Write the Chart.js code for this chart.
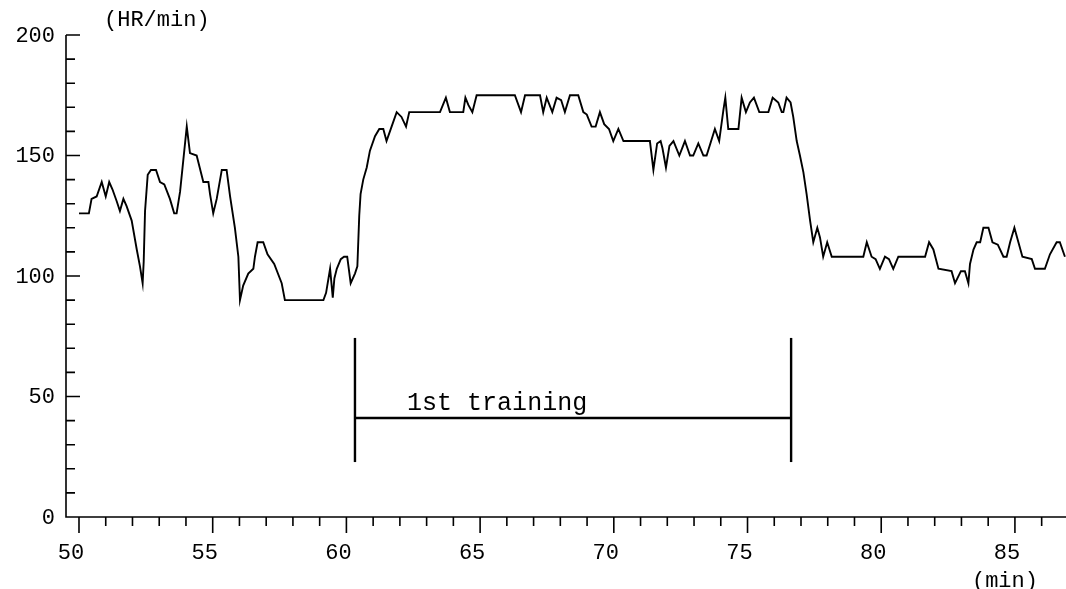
<!DOCTYPE html>
<html>
<head>
<meta charset="utf-8">
<script src="https://cdn.jsdelivr.net/npm/chart.js@4/dist/chart.umd.min.js"></script>
<style>
  html, body { margin: 0; padding: 0; background: #fff; }
  #wrap { position: relative; width: 1066px; height: 589px; }
</style>
</head>
<body>
<div id="wrap"><canvas id="hr"></canvas></div>
<script>
// --- dati (minuti / battiti al minuto) ---
const minutes = [
  50.0, 50.37, 50.47, 50.66, 50.85, 51.0, 51.13, 51.25, 51.41, 51.53, 51.66, 51.78, 51.97,
  52.16, 52.28, 52.38, 52.42, 52.47, 52.57, 52.69, 52.88, 53.03, 53.19, 53.4, 53.56, 53.65,
  53.78, 53.9, 54.03, 54.15, 54.4, 54.65, 54.84, 54.9, 55.02, 55.15, 55.34, 55.52, 55.65,
  55.83, 55.96, 56.02, 56.14, 56.33, 56.52, 56.58, 56.68, 56.89, 57.05, 57.3, 57.58, 57.7,
  59.14, 59.24, 59.39, 59.49, 59.55, 59.64, 59.79, 59.91, 60.03, 60.16, 60.32, 60.41, 60.48,
  60.53, 60.63, 60.76, 60.88, 61.07, 61.23, 61.38, 61.5, 61.69, 61.88, 62.06, 62.23, 62.35,
  63.5, 63.72, 63.87, 64.37, 64.45, 64.56, 64.71, 64.87, 66.3, 66.53, 66.68, 67.24, 67.36,
  67.49, 67.7, 67.86, 68.03, 68.17, 68.36, 68.67, 68.86, 68.99, 69.17, 69.32, 69.48, 69.64,
  69.82, 69.98, 70.17, 70.36, 71.35, 71.48, 71.62, 71.75, 71.82, 71.95, 72.08, 72.23, 72.45,
  72.66, 72.85, 72.97, 73.16, 73.35, 73.47, 73.78, 73.94, 74.1, 74.17, 74.28, 74.66, 74.78,
  74.94, 75.09, 75.24, 75.44, 75.78, 75.94, 76.15, 76.28, 76.34, 76.46, 76.61, 76.71, 76.84,
  76.96, 77.09, 77.21, 77.34, 77.46, 77.61, 77.71, 77.83, 77.98, 78.15, 79.33, 79.46, 79.64,
  79.79, 79.95, 80.14, 80.29, 80.45, 80.64, 81.64, 81.79, 81.95, 82.14, 82.63, 82.76, 82.98,
  83.13, 83.26, 83.32, 83.45, 83.57, 83.7, 83.82, 84.01, 84.16, 84.36, 84.57, 84.69, 84.82,
  84.98, 85.13, 85.28, 85.63, 85.75, 86.12, 86.31, 86.56, 86.68, 86.87
];
const heartRate = [
  126, 126, 132, 133, 139, 133, 139, 136, 131, 127, 132, 129, 123,
  111, 104, 97, 106, 127, 142, 144, 144, 139, 138, 132, 126, 126,
  135, 148, 162, 151, 150, 139, 139, 134, 126, 132, 144, 144, 133,
  120, 108, 90, 96, 101, 103, 108, 114, 114, 109, 105, 97, 90,
  90, 93, 103, 91, 99, 103, 107, 108, 108, 97, 101, 104, 125,
  134, 140, 145, 152, 158, 161, 161, 156, 162, 168, 166, 162, 168,
  168, 174, 168, 168, 174, 171, 168, 175, 175, 168, 175, 175, 168,
  174, 168, 174, 173, 168, 175, 175, 168, 167, 162, 162, 168, 163,
  161, 156, 161, 156, 156, 144, 155, 156, 153, 145, 154, 156, 150,
  156, 150, 150, 155, 150, 150, 161, 156, 169, 174, 161, 161, 174,
  168, 172, 174, 168, 168, 174, 172, 168, 168, 174, 172, 166, 156,
  150, 143, 134, 123, 114, 120, 116, 108, 114, 108, 108, 114, 108,
  107, 103, 108, 107, 103, 108, 108, 114, 111, 103, 102, 97, 102,
  102, 97, 105, 111, 114, 114, 120, 120, 114, 113, 108, 108, 114,
  120, 114, 108, 107, 103, 103, 109, 114, 114, 108
];

// assi e tacche
const xLabels = [50, 55, 60, 65, 70, 75, 80, 85];
const xMinorTicks = [51, 52, 53, 54, 56, 57, 58, 59, 61, 62, 63, 64, 66, 67, 68, 69, 71, 72, 73, 74, 76, 77, 78, 79, 81, 82, 83, 84, 86];
const yLabels = [0, 50, 100, 150, 200];
const yMinorTicks = [10, 20, 30, 40, 60, 70, 80, 90, 110, 120, 130, 140, 160, 170, 180, 190];

// parentesi "1st training"
const trainStart = 60.32, trainEnd = 76.63;
const bracketTop = 74.3, bracketBottom = 22.8, bracketBar = 41.1;
const trainText = '1st training', trainTextAt = [62.27, 44.2];

const FONT = '"Liberation Mono", "DejaVu Sans Mono", monospace';
const pts = (xs, ys) => xs.map((v, i) => ({ x: v, y: ys[i] }));

// disegno manuale di assi, tacche ed etichette (stile figura stampata)
const axesPlugin = {
  id: 'axes',
  afterDraw(c) {
    const { ctx, chartArea: a, scales: { x, y } } = c;
    const y0 = y.getPixelForValue(0), x0 = a.left;
    ctx.save();
    ctx.strokeStyle = '#000'; ctx.fillStyle = '#000'; ctx.lineWidth = 1.6;

    ctx.beginPath();
    ctx.moveTo(x0, y.getPixelForValue(200)); ctx.lineTo(x0, y0); ctx.lineTo(a.right, y0);
    // tacche asse y (verso l'interno)
    yMinorTicks.forEach(v => { const p = y.getPixelForValue(v); ctx.moveTo(x0, p); ctx.lineTo(x0 + 9, p); });
    yLabels.forEach(v => { const p = y.getPixelForValue(v); ctx.moveTo(x0, p); ctx.lineTo(x0 + 14, p); });
    // tacche asse x (verso il basso)
    xMinorTicks.forEach(v => { const p = x.getPixelForValue(v); ctx.moveTo(p, y0); ctx.lineTo(p, y0 + 9); });
    xLabels.forEach(v => { const p = x.getPixelForValue(v); ctx.moveTo(p, y0); ctx.lineTo(p, y0 + 16); });
    ctx.stroke();

    ctx.font = `22px ${FONT}`;
    ctx.textBaseline = 'middle';
    ctx.textAlign = 'right';
    yLabels.forEach(v => ctx.fillText(String(v), x0 - 11, y.getPixelForValue(v) + 1));
    ctx.textAlign = 'center';
    xLabels.forEach(v => ctx.fillText(String(v), x.getPixelForValue(v) - 8, y0 + 36));
    ctx.textAlign = 'left';
    ctx.fillText('(HR/min)', x0 + 38, y.getPixelForValue(200) - 15);
    ctx.fillText('(min)', x.getPixelForValue(85) - 43, y0 + 64);

    // testo della parentesi
    ctx.font = `25px ${FONT}`;
    ctx.textBaseline = 'alphabetic';
    ctx.fillText(trainText, x.getPixelForValue(trainTextAt[0]), y.getPixelForValue(trainTextAt[1]));
    ctx.restore();
  }
};

const lineDs = (data, w) => ({ data, borderColor: '#000', borderWidth: w, pointRadius: 0, tension: 0, fill: false });

new Chart(document.getElementById('hr'), {
  type: 'line',
  data: {
    datasets: [
      lineDs(pts(minutes, heartRate), 1.9),
      lineDs(pts([trainStart, trainStart], [bracketBottom, bracketTop]), 2.4),
      lineDs(pts([trainEnd, trainEnd], [bracketBottom, bracketTop]), 2.4),
      lineDs(pts([trainStart, trainEnd], [bracketBar, bracketBar]), 2.4)
    ]
  },
  options: {
    responsive: true, maintainAspectRatio: false, animation: false,
    layout: { padding: { left: 66, right: 0, top: 35, bottom: 72 } },
    plugins: { legend: { display: false }, tooltip: { enabled: false } },
    scales: {
      x: { type: 'linear', min: 49.514, max: 86.91, display: false },
      y: { min: 0, max: 200, display: false }
    }
  },
  plugins: [axesPlugin]
});
</script>
</body>
</html>
